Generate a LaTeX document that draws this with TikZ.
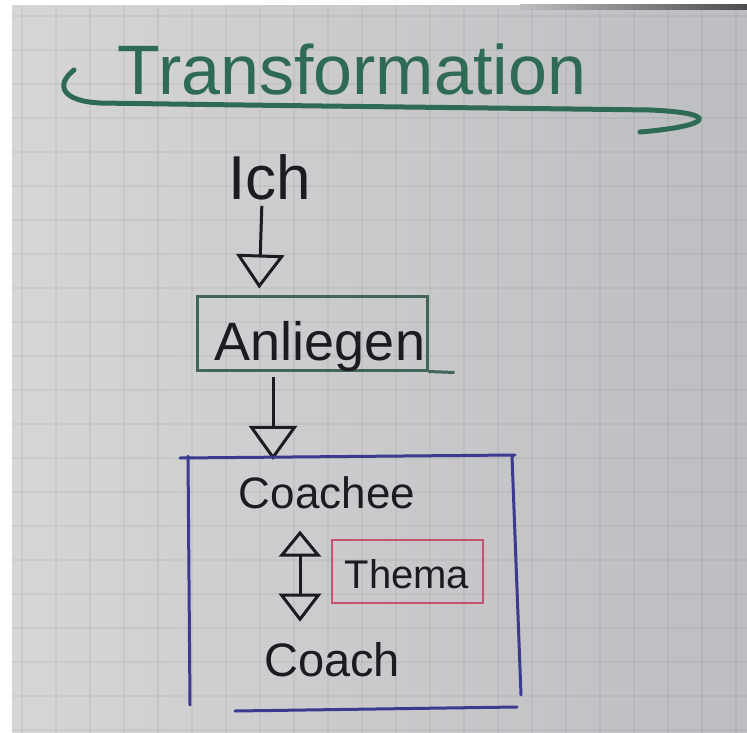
\documentclass[tikz,border=0pt]{standalone}
\usepackage{fontspec}
\setmainfont{Liberation Sans}
\usetikzlibrary{arrows.meta}
\definecolor{paperL}{HTML}{D6D5D8}
\definecolor{paperR}{HTML}{BDBEC1}
\definecolor{ink}{HTML}{1C1C20}
\definecolor{penGreen}{HTML}{2E6A54}
\definecolor{boxGreen}{HTML}{43645A}
\definecolor{penBlue}{HTML}{3A3A8E}
\definecolor{penRed}{HTML}{C4546C}
\tikzset{
  gridline/.style={black, opacity=0.045, line width=1.5pt},
  txt/.style={inner sep=0pt, text=ink, anchor=base},
  conn/.style={draw=ink, line width=3pt, -{Triangle[open,length=34pt,width=48pt]}},
  dconn/.style={draw=ink, line width=3pt, {Triangle[open,length=26pt,width=42pt]}-{Triangle[open,length=28pt,width=42pt]}},
  greenbox/.style={draw=boxGreen, line width=3pt, inner sep=0pt, text=ink},
  redbox/.style={draw=penRed, line width=2pt, inner sep=0pt, text=ink},
  blueline/.style={draw=penBlue, line width=3pt, line cap=round},
}
\begin{document}
\begin{tikzpicture}[x=1pt,y=-1pt]
\useasboundingbox (0,0) rectangle (747,733);
\fill[white] (0,0) rectangle (747,733);
\shade[left color=paperL, right color=paperR] (12,6) rectangle (747,733);
\foreach \x in {22,56,...,747} \draw[gridline] (\x,6) -- (\x,733);
\foreach \y in {16,50,...,733} \draw[gridline] (12,\y) -- (747,\y);
\shade[left color=paperR, right color=black!70] (520,5) rectangle (747,10);

% title
\node[txt, text=penGreen] (title) at (352,95) {\fontsize{70}{70}\selectfont Transformation};
\draw[penGreen, line width=5pt, line cap=round]
  (74,70) .. controls (56,84) and (60,101) .. (100,103)
  .. controls (300,106) and (500,108) .. (650,110)
  .. controls (722,113) and (712,126) .. (640,132);

% Ich
\node[txt] (ich) at (270,200) {\fontsize{62}{62}\selectfont Ich};

% Anliegen
\node[greenbox, minimum width=230pt, minimum height=74pt, text height=54pt, text depth=0pt]
  (anl) at (312,333) {\fontsize{54}{54}\selectfont\hspace*{16pt}Anliegen};
\draw[boxGreen, line width=3pt] (anl.south east) -- ++(26,1);

\draw[conn, shorten <=5pt, shorten >=6pt] ([xshift=-8pt]ich.south) -- ([xshift=-53pt]anl.north);

% Coachee / Coach group
\node[txt] (coachee) at (327,508) {\fontsize{44}{44}\selectfont Coachee};
\node[txt] (coach) at (332,676) {\fontsize{47}{47}\selectfont Coach};
\node[redbox, minimum width=151pt, minimum height=63pt, text height=34pt, text depth=0pt]
  (thema) at (407,571) {\fontsize{40}{40}\selectfont Thema};

\draw[conn, shorten <=5pt, shorten >=16pt] ([xshift=-39pt]anl.south) -- ([xshift=-54pt]coachee.north);
\draw[dconn, shorten <=22pt, shorten >=20pt] ([xshift=-27pt]coachee.south) -- ([xshift=-32pt]coach.north);

% blue frame
\draw[blueline] (180,458) -- (515,455);
\draw[blueline] (188,456) -- (190,705);
\draw[blueline] (512,456) -- (521,695);
\draw[blueline] (235,711) -- (517,707);
\end{tikzpicture}
\end{document}
